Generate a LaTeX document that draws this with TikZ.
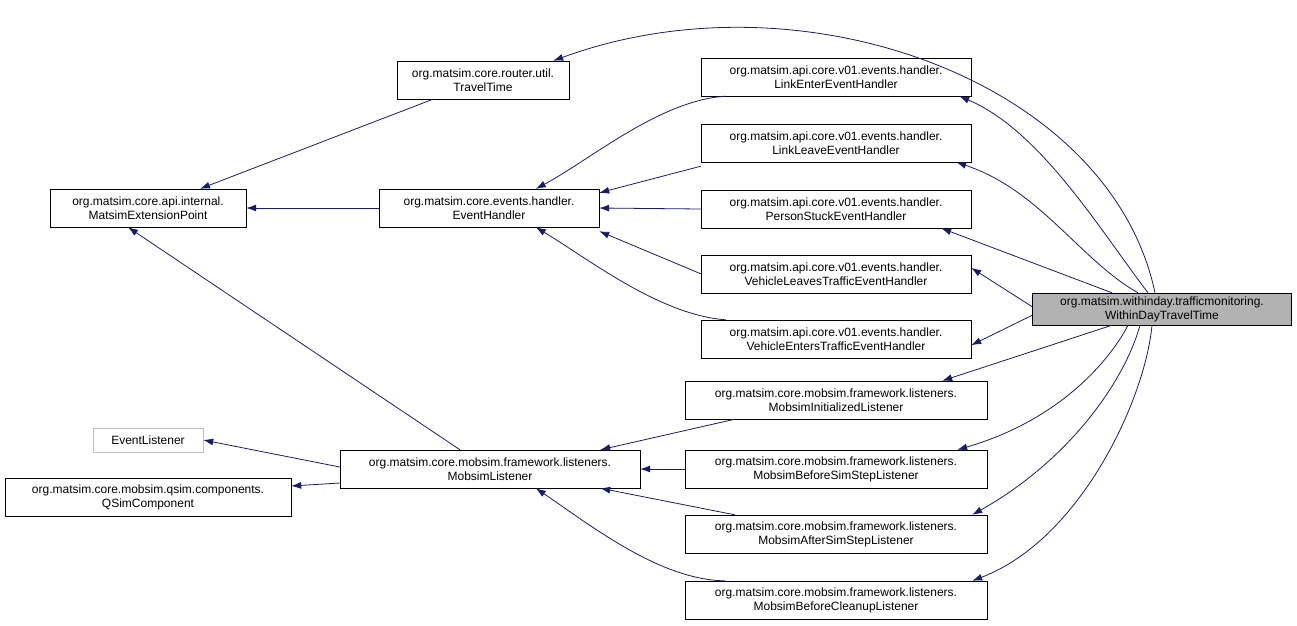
\documentclass[tikz,border=0pt]{standalone}
\usepackage{fontspec}
\setmainfont{Liberation Sans}
\usetikzlibrary{arrows.meta}

\tikzset{
  cls/.style={draw=black, fill=white, align=center, inner sep=0pt, minimum height=38pt, font=\fontsize{12}{14}\selectfont},
  ext/.style={cls, draw=black!25, minimum height=24pt},
  hl/.style={cls, fill=black!30, minimum height=32pt},
  inh/.style={draw={rgb,255:red,25;green,25;blue,112}, {Latex[length=10pt,width=7pt]}-, thick}
}

\begin{document}
\begin{tikzpicture}[x=1pt, y=-1pt]
    \useasboundingbox (0,0) rectangle (1297,625);
    % Nodes
    \node[cls, minimum width=172pt] (tt) at (483,80) {org.matsim.core.router.util.\\TravelTime};
    \node[cls, minimum width=196pt] (mep) at (148,208) {org.matsim.core.api.internal.\\MatsimExtensionPoint};
    \node[cls, minimum width=220pt] (eh) at (489,208) {org.matsim.core.events.handler.\\EventHandler};
    \node[ext, minimum width=110pt] (el) at (148,440) {EventListener};
    \node[cls, minimum width=300pt] (ml) at (490,469) {org.matsim.core.mobsim.framework.listeners.\\MobsimListener};
    \node[cls, minimum width=286pt] (qs) at (148,497) {org.matsim.core.mobsim.qsim.components.\\QSimComponent};
    \node[cls, minimum width=270pt] (len) at (836,77) {org.matsim.api.core.v01.events.handler.\\LinkEnterEventHandler};
    \node[cls, minimum width=270pt] (llv) at (836,143) {org.matsim.api.core.v01.events.handler.\\LinkLeaveEventHandler};
    \node[cls, minimum width=270pt] (pst) at (836,209) {org.matsim.api.core.v01.events.handler.\\PersonStuckEventHandler};
    \node[cls, minimum width=270pt] (vlt) at (836,274) {org.matsim.api.core.v01.events.handler.\\VehicleLeavesTrafficEventHandler};
    \node[cls, minimum width=270pt] (vet) at (836,339) {org.matsim.api.core.v01.events.handler.\\VehicleEntersTrafficEventHandler};
    \node[cls, minimum width=302pt] (mil) at (836,400) {org.matsim.core.mobsim.framework.listeners.\\MobsimInitializedListener};
    \node[cls, minimum width=302pt] (mbs) at (836,469) {org.matsim.core.mobsim.framework.listeners.\\MobsimBeforeSimStepListener};
    \node[cls, minimum width=302pt] (mas) at (836,534) {org.matsim.core.mobsim.framework.listeners.\\MobsimAfterSimStepListener};
    \node[cls, minimum width=302pt] (mbc) at (836,600) {org.matsim.core.mobsim.framework.listeners.\\MobsimBeforeCleanupListener};
    \node[hl, minimum width=259pt] (wd) at (1162,309) {org.matsim.withinday.trafficmonitoring.\\WithinDayTravelTime};

    % Inheritance
    \draw[inh] ([xshift=52pt]mep.north) -- ([xshift=-50pt]tt.south);
    \draw[inh] (mep) -- (eh);
    \draw[inh] ([xshift=-20pt]mep.south) -- ([xshift=-30pt]ml.north);
    \draw[inh] (el.east) -- ([yshift=2pt]ml.west);
    \draw[inh] ([yshift=11pt]qs.east) -- ([yshift=-14pt]ml.west);
    \draw[inh] ([xshift=157pt]eh.north west) .. controls (590,160) and (660,100) .. ([xshift=25pt]len.south west);
    \draw[inh] ([yshift=-4pt]eh.north east) -- ([yshift=-4pt]llv.south west);
    \draw[inh] (eh.east) -- (pst.west);
    \draw[inh] ([yshift=-4pt]eh.south east) -- ([yshift=-19pt]vlt.north west);
    \draw[inh] ([xshift=157pt]eh.south west) .. controls (590,260) and (660,315) .. ([xshift=25pt]vet.north west);
    \draw[inh] ([xshift=-40pt]ml.north east) -- ([xshift=50pt]mil.south west);
    \draw[inh] (ml.east) -- (mbs.west);
    \draw[inh] ([xshift=-40pt]ml.south east) -- ([xshift=50pt]mas.north west);
    \draw[inh] ([xshift=196pt]ml.south west) .. controls (590,525) and (660,580) .. ([xshift=40pt]mbc.north west);
    \draw[inh] ([xshift=-16pt]tt.north east) .. controls (800,-30) and (1110,80) .. ([xshift=-7pt]wd.north);
    \draw[inh] ([xshift=-12pt]len.south east) .. controls (1040,130) and (1100,230) .. ([xshift=-14pt]wd.north);
    \draw[inh] ([xshift=-15pt]llv.south east) .. controls (1040,190) and (1080,260) .. ([xshift=-24pt]wd.north);
    \draw[inh] ([xshift=-30pt]pst.south east) -- ([xshift=-50pt]wd.north);
    \draw[inh] ([yshift=-13pt]vlt.north east) -- ([yshift=-14pt]wd.north west);
    \draw[inh] ([yshift=13pt]vet.south east) -- ([yshift=10pt]wd.south west);
    \draw[inh] ([xshift=-45pt]mil.north east) -- ([xshift=-50pt]wd.south);
    \draw[inh] ([xshift=-30pt]mbs.north east) .. controls (1060,420) and (1110,360) .. ([xshift=-34pt]wd.south);
    \draw[inh] ([xshift=-15pt]mas.north east) .. controls (1070,460) and (1125,380) .. ([xshift=-22pt]wd.south);
    \draw[inh] ([xshift=-15pt]mbc.north east) .. controls (1080,540) and (1145,400) .. ([xshift=-10pt]wd.south);
\end{tikzpicture}
\end{document}
